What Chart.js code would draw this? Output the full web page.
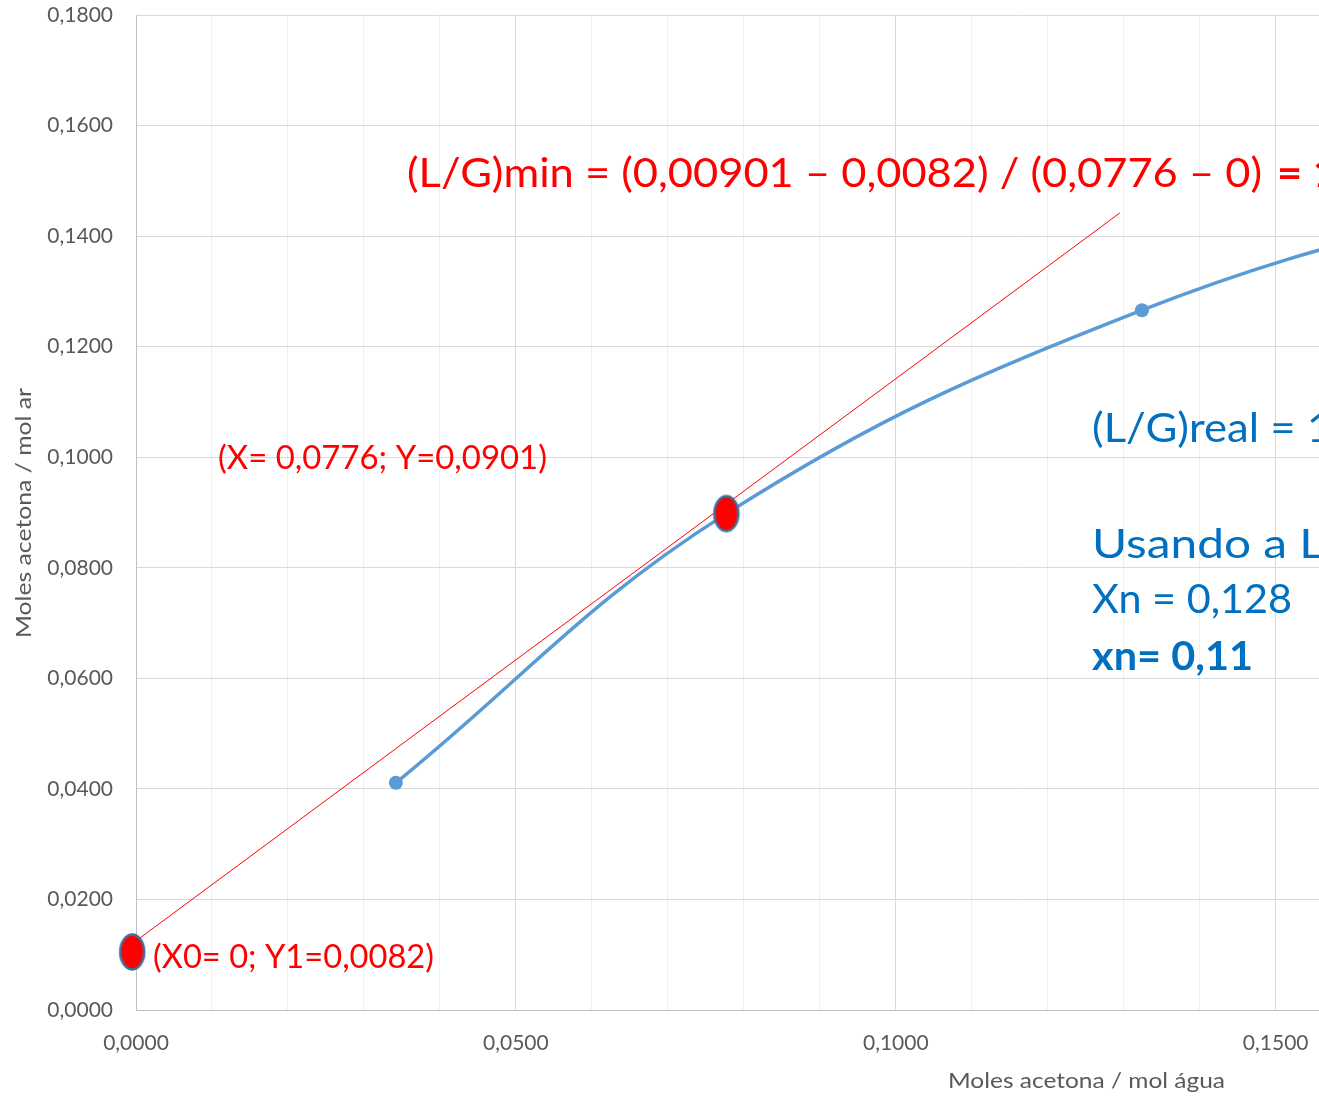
<!DOCTYPE html>
<html>
<head>
<meta charset="utf-8">
<script src="https://cdn.jsdelivr.net/npm/chart.js@4.4.1/dist/chart.umd.min.js"></script>
<style>
html,body{margin:0;padding:0;background:#fff;overflow:hidden}
canvas{display:block}
</style>
</head>
<body>
<canvas id="c" width="1319" height="1096"></canvas>
<script>
// ---------- DATA ----------
const equilibriumX = [0.0342, 0.0777, 0.1324, 0.1900];
const equilibriumY = [0.0411, 0.0898, 0.1266, 0.1505];
const operatingLineX = [0.0000, 0.1295];
const operatingLineY = [0.0125, 0.1442];
const keyPointX = [-0.0005, 0.0777];
const keyPointY = [0.0105, 0.0898];
const xAxisRange = [0, 0.1557];
const yAxisRange = [0, 0.18];
const xGridValues = [0, 0.01, 0.02, 0.03, 0.04, 0.05, 0.06, 0.07, 0.08, 0.09, 0.10, 0.11, 0.12, 0.13, 0.14, 0.15];
const xLabelValues = [0, 0.05, 0.10, 0.15];
const yStep = 0.02;
const xAxisTitle = 'Moles acetona / mol água';
const yAxisTitle = 'Moles acetona / mol ar';
const titleNormal = '(L/G)min = (0,00901 – 0,0082) / (0,0776 – 0)';
const titleBold = '= 1,055';
const labelPoint2 = '(X= 0,0776; Y=0,0901)';
const labelPoint1 = '(X0= 0; Y1=0,0082)';
const blueLines = ['(L/G)real = 1', 'Usando a LO', 'Xn = 0,128', 'xn= 0,11'];

// ---------- HELPERS ----------
const zip = (xs, ys) => xs.map((x, i) => ({x: x, y: ys[i]}));
const fmt = v => v.toFixed(4).replace('.', ',');
const isLabeled = v => xLabelValues.some(l => Math.abs(l - v) < 1e-9);

function ellipseMarker() {
  const c = document.createElement('canvas');
  c.width = 30; c.height = 40;
  const g = c.getContext('2d');
  g.beginPath();
  g.ellipse(15, 20, 12, 17.5, 0, 0, Math.PI * 2);
  g.fillStyle = '#ff0000';
  g.fill();
  g.lineWidth = 2.5;
  g.strokeStyle = '#41719c';
  g.stroke();
  return c;
}

function drawFit(ctx, text, x, y, font, color, scale) {
  ctx.save();
  ctx.font = font;
  ctx.fillStyle = color;
  ctx.textAlign = 'left';
  ctx.textBaseline = 'alphabetic';
  ctx.translate(x, y);
  ctx.scale(scale, 1);
  ctx.fillText(text, 0, 0);
  ctx.restore();
}
function scaleFor(ctx, text, font, target) {
  ctx.save(); ctx.font = font;
  const w = ctx.measureText(text).width;
  ctx.restore();
  return target / w;
}

const textPlugin = {
  id: 'texts',
  afterDatasetsDraw(chart) {
    const ctx = chart.ctx;
    const red = '#ff0000', blue = '#0070c0', gray = '#595959';
    const fT = '40px Lato', fTB = 'bold 40px Lato';
    const sT = scaleFor(ctx, titleNormal, fT, 855);
    drawFit(ctx, titleNormal, 407, 187, fT, red, sT);
    drawFit(ctx, titleBold, 1277, 187, fTB, red, sT);
    const fR = '32px Lato';
    drawFit(ctx, labelPoint2, 218, 469, fR, red, scaleFor(ctx, labelPoint2, fR, 329));
    drawFit(ctx, labelPoint1, 153, 968, fR, red, scaleFor(ctx, labelPoint1, fR, 281));
    const fB = '40px Lato', fBB = 'bold 40px Lato';
    drawFit(ctx, blueLines[0], 1092, 442, fB, blue, scaleFor(ctx, '(L/G)real', fB, 167));
    drawFit(ctx, blueLines[1], 1092, 558, fB, blue, scaleFor(ctx, 'Usando a', fB, 195));
    drawFit(ctx, blueLines[2], 1092, 613, fB, blue, scaleFor(ctx, blueLines[2], fB, 200));
    drawFit(ctx, blueLines[3], 1092, 670, fBB, blue, scaleFor(ctx, blueLines[3], fBB, 161));
    const fA = '21px Lato';
    drawFit(ctx, xAxisTitle, 948, 1088, fA, gray, scaleFor(ctx, xAxisTitle, fA, 277));
    ctx.save();
    ctx.translate(31, 638);
    ctx.rotate(-Math.PI / 2);
    drawFit(ctx, yAxisTitle, 0, 0, fA, gray, scaleFor(ctx, yAxisTitle, fA, 250));
    ctx.restore();
  }
};

function build() {
  Chart.defaults.font.family = 'Lato';
  new Chart(document.getElementById('c'), {
    type: 'scatter',
    data: {
      datasets: [
        {
          label: 'Pontos',
          data: zip(keyPointX, keyPointY),
          pointStyle: ellipseMarker(),
          pointRadius: 15,
          showLine: false,
          clip: false,
          order: 0
        },
        {
          label: 'Equilíbrio',
          data: zip(equilibriumX, equilibriumY),
          showLine: true,
          borderColor: '#5b9bd5',
          backgroundColor: '#5b9bd5',
          borderWidth: 3.5,
          pointRadius: 7,
          pointBorderWidth: 0,
          tension: 0.4,
          order: 1
        },
        {
          label: 'Linha de operação mínima',
          data: zip(operatingLineX, operatingLineY),
          showLine: true,
          borderColor: '#ff0000',
          borderWidth: 1,
          pointRadius: 0,
          order: 2
        }
      ]
    },
    options: {
      responsive: false,
      animation: false,
      devicePixelRatio: 1,
      layout: {autoPadding: false, padding: {top: 15, right: 0, bottom: 0, left: 0}},
      plugins: {legend: {display: false}, tooltip: {enabled: false}},
      scales: {
        x: {
          type: 'linear',
          min: xAxisRange[0],
          max: xAxisRange[1],
          afterBuildTicks: s => { s.ticks = xGridValues.map(v => ({value: v})); },
          afterFit: s => { s.height = 86; s.paddingLeft = 0; s.paddingRight = 0; },
          ticks: {
            autoSkip: false,
            maxRotation: 0,
            padding: 21,
            color: '#595959',
            font: {size: 21, family: 'Lato'},
            callback: v => isLabeled(v) ? fmt(v) : ''
          },
          grid: {
            drawTicks: false,
            lineWidth: 1,
            color: c => (c.tick && isLabeled(c.tick.value)) ? '#d9d9d9' : '#efefef'
          },
          border: {color: '#bfbfbf', width: 1}
        },
        y: {
          type: 'linear',
          min: yAxisRange[0],
          max: yAxisRange[1],
          afterFit: s => { s.width = 136; s.paddingTop = 0; s.paddingBottom = 0; },
          ticks: {
            stepSize: yStep,
            padding: 23,
            color: '#595959',
            font: {size: 21, family: 'Lato'},
            callback: v => fmt(v)
          },
          grid: {drawTicks: false, lineWidth: 1, color: '#d9d9d9'},
          border: {color: '#bfbfbf', width: 1}
        }
      }
    },
    plugins: [textPlugin]
  });
}

const fontLoads = ['21px Lato', '32px Lato', '40px Lato', 'bold 40px Lato'].map(f => document.fonts.load(f));
Promise.all(fontLoads).then(build, build);
</script>
</body>
</html>
